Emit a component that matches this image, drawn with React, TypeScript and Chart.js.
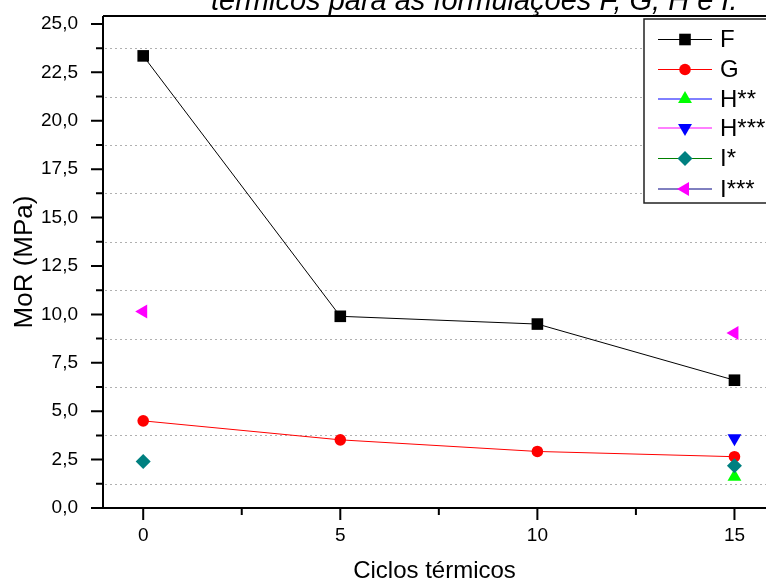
import React, { useEffect, useRef } from 'react';
import { Chart, registerables } from 'chart.js';
import { drawPoint } from 'chart.js/helpers';

Chart.register(...registerables);

// ---- data ----
const cycles = [0, 5, 10, 15];
const seriesF = [23.35, 9.9, 9.5, 6.6];
const seriesG = [4.5, 3.52, 2.92, 2.65];
const seriesH2 = [null, null, null, 1.62];
const seriesH3 = [null, null, null, 3.6];
const seriesI1 = [2.4, null, null, 2.18];
const seriesI3 = [10.15, null, null, 9.04];
const seriesNames = ['F', 'G', 'H**', 'H***', 'I*', 'I***'];

const xMajorTicks = [0, 5, 10, 15];
const xMinorTicks = [2.5, 7.5, 12.5];
const yMajorTicks = [0, 2.5, 5, 7.5, 10, 12.5, 15, 17.5, 20, 22.5, 25];
const yMinorTicks = [1.25, 3.75, 6.25, 8.75, 11.25, 13.75, 16.25, 18.75, 21.25, 23.75];
const yTickLabels = ['0,0', '2,5', '5,0', '7,5', '10,0', '12,5', '15,0', '17,5', '20,0', '22,5', '25,0'];

const titleText = 'térmicos para as formulações F, G, H e I.';
const xTitle = 'Ciclos térmicos';
const yTitle = 'MoR (MPa)';

const FONT = "'Liberation Sans', Arial, sans-serif";

const allSeries = [seriesF, seriesG, seriesH2, seriesH3, seriesI1, seriesI3];
const lineColors = ['#000000', '#ff0000', '#0000ff', '#ff00ff', '#008000', '#000080'];
const markerColors = ['#000000', '#ff0000', '#00ff00', '#0000ff', '#008080', '#ff00ff'];
const markerStyles = ['rect', 'circle', 'triangle', 'triangle', 'rectRot', 'triangle'];
const markerRotations = [0, 0, 0, 180, 0, -90];
const markerRadius = [8.2, 5.8, 8, 8, 7.5, 8];

const decoPlugin = {
  id: 'deco',
  beforeDatasetsDraw(chart: any) {
    const { ctx, chartArea: a, scales } = chart;
    const x = scales.x;
    const y = scales.y;
    const right = chart.width;
    ctx.save();
    ctx.strokeStyle = '#b0b0b0';
    ctx.lineWidth = 1;
    ctx.setLineDash([2, 3]);
    for (const v of yMinorTicks) {
      const py = Math.round(y.getPixelForValue(v)) + 0.5;
      ctx.beginPath();
      ctx.moveTo(a.left + 2, py);
      ctx.lineTo(right, py);
      ctx.stroke();
    }
    ctx.setLineDash([]);
    ctx.strokeStyle = '#000';
    ctx.lineWidth = 2;
    const y0 = y.getPixelForValue(0);
    ctx.beginPath();
    ctx.moveTo(a.left, a.top);
    ctx.lineTo(a.left, y0 + 1);
    ctx.moveTo(a.left - 7, y0);
    ctx.lineTo(right, y0);
    ctx.moveTo(a.left, a.top);
    ctx.lineTo(right, a.top);
    ctx.stroke();
    ctx.beginPath();
    for (const v of yMajorTicks) {
      const py = y.getPixelForValue(v);
      ctx.moveTo(a.left - 12, py);
      ctx.lineTo(a.left, py);
    }
    for (const v of yMinorTicks) {
      const py = y.getPixelForValue(v);
      ctx.moveTo(a.left - 7, py);
      ctx.lineTo(a.left, py);
    }
    for (const v of xMajorTicks) {
      const px = x.getPixelForValue(v);
      ctx.moveTo(px, y0);
      ctx.lineTo(px, y0 + 12);
    }
    for (const v of xMinorTicks) {
      const px = x.getPixelForValue(v);
      ctx.moveTo(px, y0);
      ctx.lineTo(px, y0 + 7);
    }
    ctx.stroke();
    ctx.restore();
  },
  afterDraw(chart: any) {
    const { ctx } = chart;
    ctx.save();
    ctx.fillStyle = '#000';
    ctx.font = `italic 29px ${FONT}`;
    ctx.textBaseline = 'alphabetic';
    ctx.textAlign = 'left';
    ctx.fillText(titleText, 211, 10);
    const bx = 644, by = 19, bh = 184;
    ctx.fillStyle = '#fff';
    ctx.fillRect(bx, by, 200, bh);
    ctx.strokeStyle = '#222';
    ctx.lineWidth = 1.5;
    ctx.strokeRect(bx, by, 200, bh);
    const rowY = [39.5, 69.5, 99, 128, 158.5, 189];
    chart.data.datasets.forEach((ds: any, i: number) => {
      const ry = rowY[i];
      ctx.strokeStyle = ds.borderColor;
      ctx.lineWidth = 1;
      ctx.beginPath();
      ctx.moveTo(658, ry);
      ctx.lineTo(712, ry);
      ctx.stroke();
      ctx.fillStyle = ds.pointBackgroundColor;
      ctx.strokeStyle = ds.pointBackgroundColor;
      drawPoint(ctx, { pointStyle: ds.pointStyle, radius: ds.pointRadius, rotation: ds.pointRotation, borderWidth: 0 }, 685, ry);
      ctx.fillStyle = '#000';
      ctx.font = `24px ${FONT}`;
      ctx.textBaseline = 'middle';
      ctx.fillText(ds.label, 720, ry + 1);
    });
    ctx.restore();
  },
};

const zeroPad = (s: any) => {
  s.paddingTop = 0;
  s.paddingBottom = 0;
  s.paddingLeft = 0;
  s.paddingRight = 0;
};

export default function App() {
  const ref = useRef<HTMLCanvasElement>(null);
  useEffect(() => {
    if (!ref.current) return;
    const datasets = allSeries.map((s, i) => ({
      label: seriesNames[i],
      data: cycles.map((c, j) => ({ x: c, y: s[j] })),
      borderColor: lineColors[i],
      backgroundColor: markerColors[i],
      pointBackgroundColor: markerColors[i],
      pointBorderColor: markerColors[i],
      pointBorderWidth: 0,
      pointStyle: markerStyles[i],
      pointRotation: markerRotations[i],
      pointRadius: markerRadius[i],
      pointHoverRadius: markerRadius[i],
      borderWidth: 1,
      spanGaps: false,
      order: 10 - i,
    }));
    const chart = new Chart(ref.current, {
      type: 'line',
      data: { datasets } as any,
      options: {
        animation: false,
        responsive: false,
        devicePixelRatio: 1,
        layout: { autoPadding: false, padding: { top: 16, right: 0, left: 0, bottom: 0 } },
        plugins: { legend: { display: false }, tooltip: { enabled: false }, title: { display: false } },
        scales: {
          x: {
            type: 'linear',
            min: -1.02,
            max: 15.8,
            afterFit: (s: any) => { s.height = 75; zeroPad(s); },
            afterBuildTicks: (s: any) => { s.ticks = xMajorTicks.map((v) => ({ value: v })); },
            grid: { display: false, drawTicks: false },
            border: { display: false },
            ticks: { color: '#000', font: { family: FONT, size: 19 }, padding: 16, maxRotation: 0, callback: (v: any) => String(v) },
            title: { display: true, text: xTitle, color: '#000', font: { family: FONT, size: 24, lineHeight: 1 }, padding: { top: 0, bottom: 0 } },
          },
          y: {
            type: 'linear',
            min: 0,
            max: 25.41,
            afterFit: (s: any) => { s.width = 103; zeroPad(s); },
            afterBuildTicks: (s: any) => { s.ticks = yMajorTicks.map((v) => ({ value: v })); },
            grid: { display: false, drawTicks: false },
            border: { display: false },
            ticks: { color: '#000', font: { family: FONT, size: 19 }, padding: 25, callback: (_v: any, i: number) => yTickLabels[i] },
            title: { display: true, text: yTitle, color: '#000', font: { family: FONT, size: 26, lineHeight: 1.2 }, padding: { top: 9, bottom: 0 } },
          },
        },
      } as any,
      plugins: [decoPlugin],
    });
    return () => chart.destroy();
  }, []);
  return (
    <div style={{ position: 'fixed', left: 0, top: 0, width: 766, height: 583, background: '#fff' }}>
      <canvas ref={ref} width={766} height={583} style={{ display: 'block', width: 766, height: 583 }} />
    </div>
  );
}
